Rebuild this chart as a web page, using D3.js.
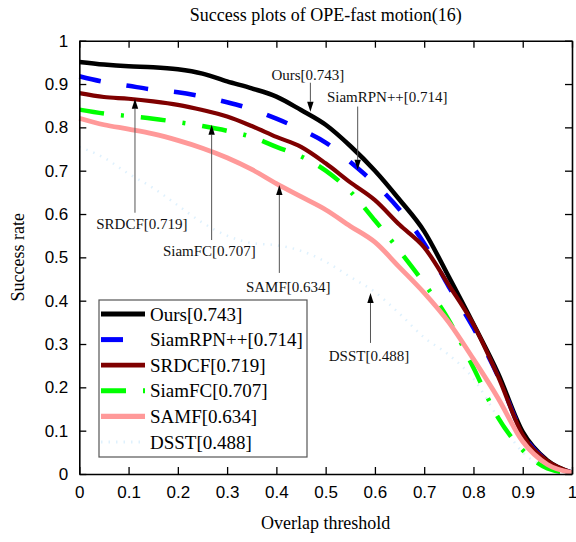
<!DOCTYPE html>
<html><head><meta charset="utf-8">
<script src="https://cdn.jsdelivr.net/npm/d3@7"></script>
<style>body{margin:0;background:#fff}svg{display:block}</style>
</head><body>
<svg id="chart" width="576" height="542"></svg>
<script>
const thresholds = [0,0.05,0.1,0.15,0.2,0.25,0.3,0.35,0.4,0.45,0.5,0.55,0.6,0.65,0.7,0.75,0.8,0.85,0.9,0.95,1.0];
const ours     = [0.951,0.945,0.941,0.939,0.934,0.924,0.906,0.89,0.871,0.84,0.806,0.757,0.70,0.633,0.56,0.455,0.346,0.232,0.097,0.031,0.003];
const siamrpn  = [0.918,0.905,0.896,0.887,0.881,0.871,0.858,0.842,0.82,0.795,0.765,0.72,0.67,0.61,0.532,0.432,0.337,0.225,0.093,0.03,0.003];
const srdcf    = [0.879,0.870,0.866,0.86,0.852,0.84,0.825,0.803,0.778,0.755,0.717,0.673,0.632,0.575,0.523,0.436,0.345,0.225,0.09,0.03,0.003];
const siamfc   = [0.841,0.832,0.826,0.82,0.812,0.803,0.792,0.778,0.755,0.733,0.70,0.652,0.585,0.515,0.44,0.355,0.245,0.13,0.055,0.013,0.002];
const samf     = [0.821,0.806,0.796,0.785,0.77,0.752,0.73,0.703,0.67,0.64,0.61,0.572,0.535,0.477,0.418,0.35,0.265,0.175,0.075,0.022,0.003];
const dsst     = [0.755,0.73,0.693,0.66,0.62,0.58,0.55,0.533,0.528,0.515,0.49,0.455,0.42,0.37,0.315,0.275,0.22,0.13,0.05,0.015,0.002];
const seriesNames = ["Ours[0.743]","SiamRPN++[0.714]","SRDCF[0.719]","SiamFC[0.707]","SAMF[0.634]","DSST[0.488]"];
const xTicks = [0,0.1,0.2,0.3,0.4,0.5,0.6,0.7,0.8,0.9,1];
const yTicks = [0,0.1,0.2,0.3,0.4,0.5,0.6,0.7,0.8,0.9,1];
// annotations in data units: arrow x, arrow tail y, arrow tip y, text center x, text baseline y
const annotations = [
  {label:"Ours[0.743]",      ax:0.469, y1:0.903, y2:0.836, tx:0.464, ty:0.91},
  {label:"SiamRPN++[0.714]", ax:0.565, y1:0.848, y2:0.702, tx:0.625, ty:0.859},
  {label:"SRDCF[0.719]",     ax:0.113, y1:0.603, y2:0.866, tx:0.127, ty:0.566},
  {label:"SiamFC[0.707]",    ax:0.2686,y1:0.54,  y2:0.806, tx:0.264, ty:0.503},
  {label:"SAMF[0.634]",      ax:0.406, y1:0.464, y2:0.667, tx:0.424, ty:0.42},
  {label:"DSST[0.488]",      ax:0.591, y1:0.3025,y2:0.418, tx:0.588, ty:0.261}
];

const styles = [
  {color:"#000000", width:4.5, dash:null},
  {color:"#0000ff", width:4.5, dash:"22,26"},
  {color:"#7f0000", width:4.2, dash:null},
  {color:"#00ff00", width:4.5, dash:"25,17,3,17"},
  {color:"#ff9999", width:4.8, dash:null},
  {color:"#dff1fd", width:2.5, dash:"1.5,6"}
];
const values = [ours, siamrpn, srdcf, siamfc, samf, dsst];

const svg = d3.select("#chart");
const L=79.3, R=572, T=40.7, B=474;
const x = d3.scaleLinear().domain([0,1]).range([L,R]);
const y = d3.scaleLinear().domain([0,1]).range([B,T]);

const line = d3.line().x(d=>x(d[0])).y(d=>y(d[1])).curve(d3.curveMonotoneX);
const drawOrder = [5,0,1,2,3,4];
const curves = svg.append("g");
drawOrder.forEach(i=>{
  const pts = thresholds.map((t,j)=>[t, values[i][j]]);
  curves.append("path").attr("d", line(pts)).attr("fill","none")
    .attr("stroke", styles[i].color).attr("stroke-width", styles[i].width)
    .attr("stroke-dasharray", styles[i].dash).attr("stroke-linejoin","round");
});

// axes (ticks inside)
const tickFont = "'Liberation Sans', Arial, sans-serif";
const gx = svg.append("g").attr("transform",`translate(0,${B})`)
  .call(d3.axisBottom(x).tickValues(xTicks).tickSizeInner(-7).tickSizeOuter(0).tickPadding(12).tickFormat(d3.format("~g")));
const gy = svg.append("g").attr("transform",`translate(${L},0)`)
  .call(d3.axisLeft(y).tickValues(yTicks).tickSizeInner(-7).tickSizeOuter(0).tickPadding(11).tickFormat(d3.format("~g")));
const gxt = svg.append("g").attr("transform",`translate(0,${T})`)
  .call(d3.axisTop(x).tickValues(xTicks).tickSizeInner(-7).tickSizeOuter(0).tickFormat(""));
const gyr = svg.append("g").attr("transform",`translate(${R},0)`)
  .call(d3.axisRight(y).tickValues(yTicks).tickSizeInner(-7).tickSizeOuter(0).tickFormat(""));
[gx,gy,gxt,gyr].forEach(g=>{
  g.selectAll("path.domain").attr("stroke","#000").attr("stroke-width",1.6);
  g.selectAll(".tick line").attr("stroke","#000").attr("stroke-width",1.3);
  g.selectAll("text").attr("font-family",tickFont).attr("font-size",17).attr("fill","#000");
});
gx.selectAll("text").attr("dy","0.72em");

// annotations
const serif = "'Liberation Serif', 'Times New Roman', serif";
const ann = svg.append("g");
annotations.forEach(a=>{
  const up = a.y2 > a.y1;
  const tipY = y(a.y2), tailY = y(a.y1), ax = x(a.ax);
  const headLen = 10, headW = 3.2;
  const baseY = up ? tipY + headLen : tipY - headLen;
  ann.append("line").attr("x1",ax).attr("x2",ax).attr("y1",tailY).attr("y2",baseY)
    .attr("stroke","#555").attr("stroke-width",1);
  ann.append("path").attr("d",`M${ax},${tipY}L${ax-headW},${baseY}L${ax+headW},${baseY}Z`).attr("fill","#000");
  ann.append("text").attr("x",x(a.tx)).attr("y",y(a.ty)).attr("text-anchor","middle")
    .attr("font-family",serif).attr("font-size",15).attr("fill","#111").text(a.label);
});

// legend
const lg = svg.append("g");
lg.append("rect").attr("x",99).attr("y",300).attr("width",208).attr("height",157)
  .attr("fill","#fff").attr("stroke","#555").attr("stroke-width",1.2);
seriesNames.forEach((n,i)=>{
  const cy = 314 + i*25.6;
  lg.append("line").attr("x1",101).attr("x2",145).attr("y1",cy).attr("y2",cy)
    .attr("stroke",styles[i].color).attr("stroke-width",styles[i].width+0.5)
    .attr("stroke-dasharray",styles[i].dash);
  lg.append("text").attr("x",150).attr("y",cy).attr("dy","0.35em")
    .attr("font-family",serif).attr("font-size",19).attr("fill","#000").text(n);
});

// title & axis labels
svg.append("text").attr("x",(L+R)/2).attr("y",21).attr("text-anchor","middle")
  .attr("font-family",serif).attr("font-size",18).attr("fill","#000").text("Success plots of OPE-fast motion(16)");
svg.append("text").attr("x",(L+R)/2).attr("y",529).attr("text-anchor","middle")
  .attr("font-family",serif).attr("font-size",18).attr("fill","#000").text("Overlap threshold");
svg.append("text").attr("transform",`translate(24,${(T+B)/2}) rotate(-90)`).attr("text-anchor","middle")
  .attr("font-family",serif).attr("font-size",18).attr("fill","#000").text("Success rate");
</script>
</body></html>
